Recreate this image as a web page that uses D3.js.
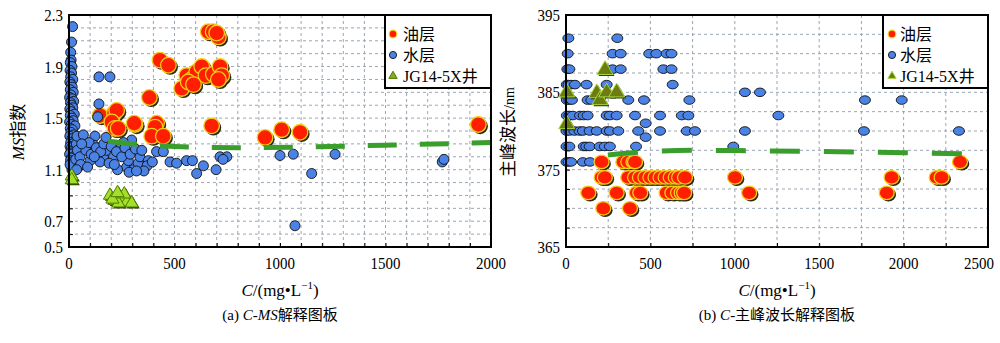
<!DOCTYPE html>
<html><head><meta charset="utf-8">
<script src="https://cdn.jsdelivr.net/npm/d3@7"></script>
<style>body{margin:0;background:#fff}svg{display:block}</style>
</head><body>
<svg id="c" width="1000" height="343"></svg>
<script>
// ---------- data ----------
const legendLabels = ["油层", "水层", "JG14-5X井"];
const yTicksL = [2.3, 1.9, 1.5, 1.1, 0.7, 0.5];
const xTicksL = [0, 500, 1000, 1500, 2000];
const yTicksR = [395, 385, 375, 365];
const xTicksR = [0, 500, 1000, 1500, 2000, 2500];

const waterL = [
 [17,2.21],[12,2.09],[8,2.01],[10,1.95],[6,1.93],[14,1.90],[5,1.87],[12,1.85],[8,1.82],[18,1.80],
 [4,1.78],[10,1.76],[15,1.74],[6,1.72],[20,1.70],[9,1.68],[3,1.66],[14,1.65],[22,1.63],[7,1.62],
 [12,1.60],[18,1.58],[4,1.57],[10,1.55],[25,1.53],[6,1.52],[15,1.50],[20,1.48],[3,1.47],[11,1.45],
 [28,1.44],[6,1.42],[16,1.41],[9,1.39],[22,1.37],[4,1.36],[14,1.34],[30,1.33],[8,1.31],[19,1.30],
 [5,1.28],[12,1.27],[26,1.26],[9,1.24],[17,1.23],[3,1.22],[22,1.20],[11,1.19],[7,1.17],[16,1.16],
 [28,1.15],[10,1.13],[20,1.12],[14,1.10],[5,1.14],[35,1.30],[40,1.25],[32,1.18],[45,1.12],[38,1.36],
 [142,1.82],[194,1.82],[142,1.61],[136,1.51],[68,1.37],[123,1.36],[118,1.29],[163,1.20],[178,1.25],
 [211,1.20],[273,1.12],[281,1.17],[305,1.10],[328,1.15],[336,1.20],[376,1.17],[370,1.13],[297,1.33],
 [258,1.31],[240,1.26],[147,1.16],[100,1.17],[52,1.20],[55,1.14],[36,1.10],[80,1.25],[95,1.31],
 [105,1.22],[130,1.27],[150,1.24],[165,1.30],[190,1.15],[200,1.28],[225,1.24],[230,1.10],[250,1.20],
 [265,1.27],[290,1.22],[315,1.26],[345,1.25],[355,1.09],[395,1.16],[60,1.30],[88,1.12],[120,1.20],
 [175,1.35],[215,1.14],[285,1.08],[320,1.09],
 [415,1.24],[447,1.24],[479,1.16],[510,1.15],[557,1.17],[585,1.17],[605,1.07],[637,1.13],[697,1.10],
 [716,1.20],[748,1.20],[730,1.18],[1000,1.21],[1063,1.22],[1150,1.07],[1071,0.665],[1261,1.22],
 [1769,1.16],[1777,1.18]
];
const oilL = [
 [660,2.17],[683,2.17],[708,2.13],[700,2.16],[431,1.95],[471,1.91],[534,1.73],[558,1.83],[581,1.80],
 [605,1.86],[629,1.90],[649,1.83],[684,1.84],[716,1.90],[724,1.83],[708,1.80],[565,1.78],[590,1.76],
 [381,1.66],[147,1.52],[215,1.54],[226,1.56],[203,1.47],[218,1.42],[233,1.42],[313,1.45],[309,1.46],
 [415,1.46],[408,1.43],[392,1.36],[447,1.36],[676,1.44],[929,1.35],[1008,1.41],[1095,1.39],[1940,1.45]
];
const wellL = [[13,1.05],[13,1.02],[194,0.90],[218,0.86],[250,0.88],[274,0.85],[297,0.84],[234,0.84],[206,0.87],[262,0.91],[230,0.92]];
const trendL = [[185,1.32],[300,1.30],[500,1.28],[800,1.27],[1100,1.275],[1500,1.29],[2000,1.31]];

const waterR = [
 [14,392],[304,392],
 [10,390],[276,390],[324,390],[493,390],[535,390],[596,390],[625,390],
 [8,388],[20,388],[276,388],[324,388],[577,388],[625,388],
 [5,386],[15,386],[30,386],[53,386],[122,386],[241,386],[632,386],
 [1060,385],[1149,385],
 [5,384],[20,384],[35,384],[128,384],[150,384],[369,384],[462,384],[731,384],[1771,384],[1989,384],
 [5,382],[20,382],[40,382],[83,382],[105,382],[128,382],[241,382],[260,382],[300,382],[409,382],[557,382],[686,382],[725,382],[1258,382],
 [472,381],
 [3,380],[20,380],[50,380],[80,380],[100,380],[140,380],[182,380],[241,380],[260,380],[310,380],[428,380],[557,380],[715,380],[764,380],[1060,380],[1765,380],[2328,380],
 [472,379.2],
 [3,378],[20,378],[105,378],[120,378],[140,378],[200,378],[230,378],[260,378],[415,378],[991,378],
 [3,376],[15,376],[30,376],[100,376],[142,376]
];
const oilR = [
 [211,376],[340,376],[369,376],[400,376],[409,376],[2334,376],
 [211,374],[230,374],[369,374],[409,374],[438,374],[470,374],[500,374],[530,374],[560,374],[590,374],[620,374],[650,374],[670,374],[705,374],[1001,374],[1929,374],[2196,374],[2225,374],
 [132,372],[300,372],[419,372],[440,372],[596,372],[630,372],[664,372],[685,372],[700,372],[1085,372],[1900,372],
 [221,370],[379,370]
];
const wellR = [[4,385],[4,380.9],[231,387.9],[182,384.9],[201,384],[241,385],[300,385]];
const trendR = [[249,376.9],[500,377.35],[800,377.5],[1100,377.45],[1500,377.35],[2000,377.2],[2352,377.05]];

// ---------- drawing ----------
const svg = d3.select("#c");
const SERIF = "'Liberation Serif','DejaVu Serif','Noto Sans CJK SC',serif";

function label(g, x, y, txt, anchor) {
  g.append("text").attr("transform", `translate(${x},${y}) scale(0.88,1)`)
    .attr("text-anchor", anchor).attr("font-family", SERIF).attr("font-size", 17).text(txt);
}

function panel(o) {
  const x = d3.scaleLinear().domain(o.xd).range([o.x0, o.x1]);
  const y = d3.scaleLinear().domain(o.yd).range([247, 15]);
  const g = svg.append("g");
  const grid = g.append("g").attr("stroke", "#9aa6b2").attr("stroke-width", 1).attr("stroke-dasharray", "3,3");
  d3.range(o.xd[0] + o.xg, o.xd[1] - 1e-6, o.xg).forEach(v =>
    grid.append("line").attr("x1", x(v)).attr("x2", x(v)).attr("y1", 15).attr("y2", 247));
  d3.range(o.yd[0] + o.yg, o.yd[1] - 1e-6, o.yg).forEach(v =>
    grid.append("line").attr("x1", o.x0).attr("x2", o.x1).attr("y1", y(v)).attr("y2", y(v)));
  const ax = d3.axisBottom(x).tickValues(d3.range(o.xd[0], o.xd[1] + 1e-6, o.xg)).tickSize(-4).tickFormat("");
  g.append("g").attr("transform", "translate(0,247)").call(ax).call(s => s.select(".domain").remove());
  const ay = d3.axisLeft(y).tickValues(d3.range(o.yd[0], o.yd[1] + 1e-6, o.yg)).tickSize(-4).tickFormat("");
  g.append("g").attr("transform", `translate(${o.x0},0)`).call(ay).call(s => s.select(".domain").remove());
  o.xt.forEach(v => label(g, Math.min(x(v), 979), 269, v, "middle"));
  o.yt.forEach(v => label(g, o.x0 - 6, y(v) + 6, o.yfmt(v), "end"));
  return {x, y, g};
}

function blue(data, p, rx, ry) {
  return m => m.append("g").selectAll("ellipse").data(data).join("ellipse")
    .attr("cx", d => p.x(d[0])).attr("cy", d => p.y(d[1])).attr("rx", rx).attr("ry", ry)
    .attr("fill", "#4a82e6").attr("stroke", "#111").attr("stroke-width", 0.9);
}
function red(data, p, rx, ry) {
  return m => {
    const g = m.append("g");
    g.selectAll(".sh").data(data).join("ellipse").attr("class", "sh")
      .attr("cx", d => p.x(d[0]) + 1.8).attr("cy", d => p.y(d[1]) + 1.8).attr("rx", rx).attr("ry", ry)
      .attr("fill", "#2a2a10");
    g.selectAll(".pt").data(data).join("ellipse").attr("class", "pt")
      .attr("cx", d => p.x(d[0])).attr("cy", d => p.y(d[1])).attr("rx", rx).attr("ry", ry)
      .attr("fill", "#ff1e00").attr("stroke", "#f2cf1a").attr("stroke-width", 1.3);
  };
}
function tri(data, p, size, fill, stroke) {
  const sym = d3.symbol(d3.symbolTriangle, size);
  return m => {
    const g = m.append("g");
    g.selectAll(".sh").data(data).join("path").attr("class", "sh")
      .attr("transform", d => `translate(${p.x(d[0]) + 1.5},${p.y(d[1]) + 1.5})`).attr("d", sym)
      .attr("fill", "#2f3f00");
    g.selectAll(".pt").data(data).join("path").attr("class", "pt")
      .attr("transform", d => `translate(${p.x(d[0])},${p.y(d[1])})`).attr("d", sym)
      .attr("fill", fill).attr("stroke", stroke).attr("stroke-width", 1);
  };
}
function trend(data, p, dash) {
  return m => m.append("path").datum(data)
    .attr("d", d3.line().x(d => p.x(d[0])).y(d => p.y(d[1])).curve(d3.curveMonotoneX))
    .attr("fill", "none").attr("stroke", "#3a9e2c").attr("stroke-width", 5).attr("stroke-dasharray", dash);
}
function frame(p) {
  const [a, b] = p.x.range();
  p.g.append("rect").attr("x", a).attr("y", 15).attr("width", b - a).attr("height", 232)
    .attr("fill", "none").attr("stroke", "#000").attr("stroke-width", 2);
}
function legend(x0, x1, symX, txtX, triFill, triStroke) {
  const g = svg.append("g");
  g.append("rect").attr("x", x0).attr("y", 15).attr("width", x1 - x0).attr("height", 73)
    .attr("fill", "#fff").attr("stroke", "#000").attr("stroke-width", 2);
  const ys = [34, 55, 76];
  g.append("circle").attr("cx", symX).attr("cy", ys[0]).attr("r", 3.8).attr("fill", "#ff1e00").attr("stroke", "#f2cf1a").attr("stroke-width", 1.2);
  g.append("circle").attr("cx", symX).attr("cy", ys[1]).attr("r", 3.6).attr("fill", "#4a82e6").attr("stroke", "#111").attr("stroke-width", 0.9);
  g.append("path").attr("transform", `translate(${symX},${ys[2]})`).attr("d", d3.symbol(d3.symbolTriangle, 30)())
    .attr("fill", triFill).attr("stroke", triStroke).attr("stroke-width", 1);
  legendLabels.forEach((t, i) => g.append("text").attr("x", txtX).attr("y", ys[i] + 6)
    .attr("font-family", SERIF).attr("font-size", 16).text(t));
}

// ---- left panel ----
const pL = panel({xd: [0, 2000], yd: [0.5, 2.3], x0: 69, x1: 491, xg: 100, yg: 0.1,
  xt: xTicksL, yt: yTicksL, yfmt: d3.format(".1f")});
const mL = pL.g.append("g");
[red(oilL, pL, 7.8, 7.8), blue(waterL, pL, 5, 5), tri(wellL, pL, 75, "#a4e02a", "#4f7d00"),
 trend(trendL, pL, "29,23")].forEach(f => f(mL));
frame(pL);
legend(385, 491, 393, 403, "#8aa81a", "#4f7d00");

// ---- right panel ----
const pR = panel({xd: [0, 2500], yd: [365, 395], x0: 566, x1: 988, xg: 250, yg: 2.5,
  xt: xTicksR, yt: yTicksR, yfmt: d3.format("d")});
const mR = pR.g.append("g");
[blue(waterR, pR, 5.5, 4.3), red(oilR, pR, 7.5, 6.8), tri(wellR, pR, 110, "#6c7c12", "#a6d83e"),
 trend(trendR, pR, "30,24")].forEach(f => f(mR));
frame(pR);
legend(883, 988, 892, 900, "#6c7c12", "#a6d83e");

// ---- axis titles & captions ----
function xTitle(cx) {
  const t = svg.append("text").attr("x", cx).attr("y", 296).attr("text-anchor", "middle")
    .attr("font-family", SERIF).attr("font-size", 17);
  t.append("tspan").attr("font-style", "italic").text("C");
  t.append("tspan").text("/(mg•L");
  t.append("tspan").attr("font-size", 11).attr("dy", -7).text("−1");
  t.append("tspan").attr("dy", 7).text(")");
}
xTitle(280); xTitle(777);

function caption(cx, parts) {
  const t = svg.append("text").attr("x", cx).attr("y", 320).attr("text-anchor", "middle")
    .attr("font-family", SERIF).attr("font-size", 15);
  parts.forEach(p => t.append("tspan").attr("font-style", p[1] ? "italic" : "normal").text(p[0]));
}
caption(280, [["(a) ", 0], ["C", 1], ["-", 0], ["MS", 1], ["解释图板", 0]]);
caption(777, [["(b) ", 0], ["C", 1], ["-主峰波长解释图板", 0]]);

const yl = svg.append("text").attr("transform", "translate(24,132) rotate(-90)").attr("text-anchor", "middle")
  .attr("font-family", SERIF).attr("font-size", 17);
yl.append("tspan").attr("font-style", "italic").text("MS");
yl.append("tspan").text("指数");

const yr = svg.append("text").attr("transform", "translate(514,132) rotate(-90)").attr("text-anchor", "middle")
  .attr("font-family", SERIF).attr("font-size", 17);
yr.append("tspan").text("主峰波长");
yr.append("tspan").attr("font-size", 14).text("/nm");
</script>
</body></html>
